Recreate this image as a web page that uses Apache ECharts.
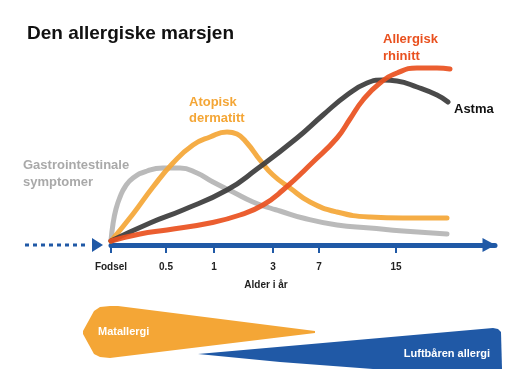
<!DOCTYPE html>
<html>
<head>
<meta charset="utf-8">
<script src="https://cdn.jsdelivr.net/npm/echarts@6/dist/echarts.min.js"></script>
<style>html,body{margin:0;padding:0;background:#fff}#c{width:520px;height:381px}</style>
</head>
<body>
<div id="c"></div>
<script>
// Horizontal position along the age arrow (abstract units, 0 = birth)
var tickPos = [0, 55, 103, 162, 208, 285];
var tickLabels = ['Fodsel', '0.5', '1', '3', '7', '15'];

// Gastrointestinale symptomer
var gastroX = [0, 2, 5, 9, 14, 22, 36, 52, 69, 86, 102, 122, 142, 159, 169, 192, 226, 259, 292, 336];
var gastroY = [4, 21, 36, 48, 58, 67, 74, 77, 77, 72, 63, 53, 43, 37, 34, 27, 20, 17, 14, 11];
// Atopisk dermatitt
var dermX = [0, 22, 42, 62, 82, 99, 116, 126, 136, 149, 162, 179, 199, 226, 259, 292, 336];
var dermY = [4, 31, 58, 82, 100, 108, 113, 111, 102, 85, 70, 57, 43, 33, 28, 27, 27];
// Astma
var astmaX = [0, 39, 72, 116, 146, 186, 212, 236, 256, 272, 286, 306, 326, 337];
var astmaY = [4, 22, 35, 55, 76, 107, 130, 150, 162, 165, 164, 158, 150, 143];
// Allergisk rhinitt
var rhinX = [0, 29, 56, 99, 129, 152, 172, 202, 226, 239, 252, 269, 286, 306, 326, 339];
var rhinY = [4, 11, 15, 22, 30, 40, 55, 83, 107, 126, 145, 162, 172, 177, 177, 176];

function pairs(xs, ys) { return xs.map(function (x, i) { return [x, ys[i]]; }); }

var BLUE = '#2059a6', ORANGE = '#f4a636', RED = '#e9501e', GRAY = '#b4b4b4', BLACK = '#3b3b3b';
var FONT = '"Liberation Sans", Arial, sans-serif';

function curve(name, xs, ys, color) {
  return {
    name: name, type: 'line', smooth: 0.5, showSymbol: false, silent: true,
    data: pairs(xs, ys),
    lineStyle: { color: color, width: 5, cap: 'round', join: 'round', opacity: 0.92 }
  };
}

var chart = echarts.init(document.getElementById('c'), null, { renderer: 'canvas' });
chart.setOption({
  animation: false,
  backgroundColor: '#fff',
  title: {
    text: 'Den allergiske marsjen', left: 27, top: 24, padding: 0,
    textStyle: { fontFamily: FONT, fontSize: 19, fontWeight: 'bold', color: '#111' }
  },
  grid: { left: 111, right: 25, top: 20, bottom: 136 },
  xAxis: {
    type: 'value', min: 0, max: 384,
    splitLine: { show: false },
    axisLine: { show: true, lineStyle: { color: BLUE, width: 5 }, symbol: ['none', 'triangle'], symbolSize: [14, 13], symbolOffset: [0, -6] },
    axisTick: { show: true, customValues: tickPos, length: 8, lineStyle: { color: BLUE, width: 2 } },
    axisLabel: {
      customValues: tickPos, margin: 17,
      fontFamily: FONT, fontSize: 10, fontWeight: 'bold', color: '#222',
      formatter: function (v) { var i = tickPos.indexOf(v); return i >= 0 ? tickLabels[i] : ''; }
    }
  },
  yAxis: { type: 'value', min: 0, max: 225, show: false },
  series: [
    curve('Gastrointestinale symptomer', gastroX, gastroY, GRAY),
    curve('Atopisk dermatitt', dermX, dermY, ORANGE),
    curve('Astma', astmaX, astmaY, BLACK),
    curve('Allergisk rhinitt', rhinX, rhinY, RED)
  ],
  graphic: [
    { type: 'line', shape: { x1: 25, y1: 245, x2: 88, y2: 245 }, style: { stroke: BLUE, lineWidth: 3, lineDash: [4, 4] } },
    { type: 'polygon', shape: { points: [[92, 238], [103, 245], [92, 252]] }, style: { fill: BLUE } },
    { type: 'text', x: 266, y: 285, style: { text: 'Alder i år', font: 'bold 10px ' + FONT, fill: '#222', align: 'center', verticalAlign: 'middle' } },
    { type: 'text', x: 23, y: 157, style: { text: 'Gastrointestinale\nsymptomer', font: 'bold 13px ' + FONT, lineHeight: 17, fill: '#a9a9a9' } },
    { type: 'text', x: 189, y: 94, style: { text: 'Atopisk\ndermatitt', font: 'bold 13px ' + FONT, lineHeight: 16, fill: ORANGE } },
    { type: 'text', x: 383, y: 31, style: { text: 'Allergisk\nrhinitt', font: 'bold 13px ' + FONT, lineHeight: 17, fill: RED } },
    { type: 'text', x: 454, y: 103, style: { text: 'Astma', font: 'bold 13px ' + FONT, fill: '#111' } },
    { type: 'polygon', shape: { points: [[83, 331], [94, 311], [100, 307], [110, 306], [118, 306], [315, 331], [315, 333], [118, 357], [110, 358], [100, 357], [94, 354], [83, 334]] }, style: { fill: ORANGE } },
    { type: 'text', x: 98, y: 332, style: { text: 'Matallergi', font: 'bold 11px ' + FONT, fill: '#fff', verticalAlign: 'middle' } },
    { type: 'polygon', shape: { points: [[198, 354], [493, 328], [498, 329], [501, 332], [502, 369], [373, 369], [280, 362]] }, style: { fill: BLUE } },
    { type: 'text', x: 490, y: 354, style: { text: 'Luftbåren allergi', font: 'bold 11px ' + FONT, fill: '#fff', align: 'right', verticalAlign: 'middle' } }
  ]
});
</script>
</body>
</html>
